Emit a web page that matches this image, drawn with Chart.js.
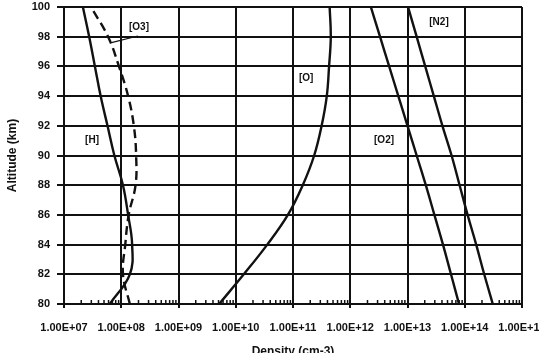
<!DOCTYPE html>
<html>
<head>
<meta charset="utf-8">
<script src="https://cdn.jsdelivr.net/npm/chart.js@4"></script>
<style>
  html, body { margin: 0; padding: 0; background: #fff; overflow: hidden; }
</style>
</head>
<body>
<canvas id="densityChart" width="550" height="361"></canvas>
<script>
// Altitude levels (km) where the curves were read
const altitudes = [80, 82, 84, 86, 88, 90, 92, 94, 96, 98, 100];

// log10 of density (cm-3), one per altitude
const hExp  = [7.80, 8.15, 8.19, 8.12, 8.03, 7.88, 7.76, 7.64, 7.54, 7.44, 7.33];
const o3Exp = [8.15, 8.03, 8.07, 8.13, 8.25, 8.26, 8.22, 8.12, 7.96, 7.77, 7.47];
const oExp  = [9.71, 10.14, 10.55, 10.91, 11.17, 11.37, 11.50, 11.59, 11.63, 11.66, 11.64];
const o2Exp = [13.90, 13.76, 13.62, 13.47, 13.32, 13.16, 13.00, 12.84, 12.68, 12.52, 12.36];
const n2Exp = [14.49, 14.34, 14.20, 14.05, 13.91, 13.77, 13.61, 13.46, 13.31, 13.16, 13.01];

// Axis ticks
const xDecades = [7, 8, 9, 10, 11, 12, 13, 14, 15];
const xTickLabels = ['1.00E+07', '1.00E+08', '1.00E+09', '1.00E+10', '1.00E+11',
                     '1.00E+12', '1.00E+13', '1.00E+14', '1.00E+15'];
const yTicks = [80, 82, 84, 86, 88, 90, 92, 94, 96, 98, 100];
const minorSteps = [2, 3, 4, 5, 6, 7, 8, 9];

// Curve labels: text, log10 density, altitude
const labelText = ['[H]', '[O3]', '[O]', '[O2]', '[N2]'];
const labelExp  = [7.49, 8.31, 11.23, 12.59, 13.55];
const labelAlt  = [91.0, 98.65, 95.2, 91.0, 99.0];
// leader line from [O3] label to its curve: [exp, alt, exp, alt]
const o3Leader = [8.29, 98.05, 7.83, 97.6];

const ink = '#111';
const toPoints = exps => altitudes.map((alt, i) => ({ x: Math.pow(10, exps[i]), y: alt }));

function curve(label, exps, dash) {
  return {
    label: label,
    data: toPoints(exps),
    borderColor: ink,
    borderWidth: 2.4,
    borderDash: dash || [],
    pointRadius: 0,
    tension: 0.4,
    fill: false
  };
}

// small ticks between decades, drawn upward from the x axis
const minorTicks = {
  id: 'minorTicks',
  afterDatasetsDraw(chart) {
    const { ctx, chartArea } = chart;
    const x = chart.scales.x;
    ctx.save();
    ctx.strokeStyle = ink;
    ctx.lineWidth = 1.5;
    xDecades.slice(0, -1).forEach(e => {
      minorSteps.forEach(m => {
        const px = x.getPixelForValue(m * Math.pow(10, e));
        ctx.beginPath();
        ctx.moveTo(px, chartArea.bottom);
        ctx.lineTo(px, chartArea.bottom - 4);
        ctx.stroke();
      });
    });
    ctx.restore();
  }
};

// text labels next to the curves
const curveText = {
  id: 'curveText',
  afterDatasetsDraw(chart) {
    const { ctx } = chart;
    const x = chart.scales.x, y = chart.scales.y;
    ctx.save();
    ctx.fillStyle = ink;
    ctx.font = 'bold 10px "Liberation Sans", Arial, sans-serif';
    ctx.textAlign = 'center';
    ctx.textBaseline = 'middle';
    labelText.forEach((t, i) => {
      ctx.fillText(t, x.getPixelForValue(Math.pow(10, labelExp[i])), y.getPixelForValue(labelAlt[i]));
    });
    ctx.strokeStyle = ink;
    ctx.lineWidth = 1.2;
    ctx.beginPath();
    ctx.moveTo(x.getPixelForValue(Math.pow(10, o3Leader[0])), y.getPixelForValue(o3Leader[1]));
    ctx.lineTo(x.getPixelForValue(Math.pow(10, o3Leader[2])), y.getPixelForValue(o3Leader[3]));
    ctx.stroke();
    ctx.restore();
  }
};

const tickFont = { family: '"Liberation Sans", Arial, sans-serif', size: 11, weight: 'bold' };
const titleFont = { family: '"Liberation Sans", Arial, sans-serif', size: 12, weight: 'bold' };

new Chart(document.getElementById('densityChart').getContext('2d'), {
  type: 'line',
  data: {
    datasets: [
      curve('[H]', hExp),
      curve('[O3]', o3Exp, [9, 5]),
      curve('[O]', oExp),
      curve('[O2]', o2Exp),
      curve('[N2]', n2Exp)
    ]
  },
  options: {
    responsive: false,
    animation: false,
    layout: { padding: 0 },
    plugins: { legend: { display: false }, tooltip: { enabled: false } },
    scales: {
      x: {
        type: 'logarithmic',
        min: Math.pow(10, xDecades[0]),
        max: Math.pow(10, xDecades[xDecades.length - 1]),
        afterBuildTicks: s => { s.ticks = xDecades.map(e => ({ value: Math.pow(10, e) })); },
        afterFit: s => {
          s.height = 57;
          s.paddingLeft = 0;
          s.paddingRight = 28; // last label runs past the window edge, as in the scan
        },
        ticks: {
          callback: (v, i) => xTickLabels[i],
          font: tickFont, color: ink, padding: 13,
          maxRotation: 0, autoSkip: false
        },
        grid: { color: ink, lineWidth: 2, tickLength: 4 },
        border: { color: ink, width: 2 },
        title: { display: true, text: 'Density (cm-3)', font: titleFont, color: ink, padding: { top: 0, bottom: 2 } }
      },
      y: {
        type: 'linear',
        min: yTicks[0],
        max: yTicks[yTicks.length - 1],
        afterBuildTicks: s => { s.ticks = yTicks.map(v => ({ value: v })); },
        afterFit: s => {
          s.width = 64;
          s.paddingTop = 7;
          s.paddingBottom = 0;
        },
        ticks: { font: tickFont, color: ink, padding: 7 },
        grid: { color: ink, lineWidth: 2, tickLength: 7 },
        border: { color: ink, width: 2 },
        title: { display: true, text: 'Altitude (km)', font: titleFont, color: ink, padding: { top: 5, bottom: 0 } }
      }
    }
  },
  plugins: [minorTicks, curveText]
});
</script>
</body>
</html>
